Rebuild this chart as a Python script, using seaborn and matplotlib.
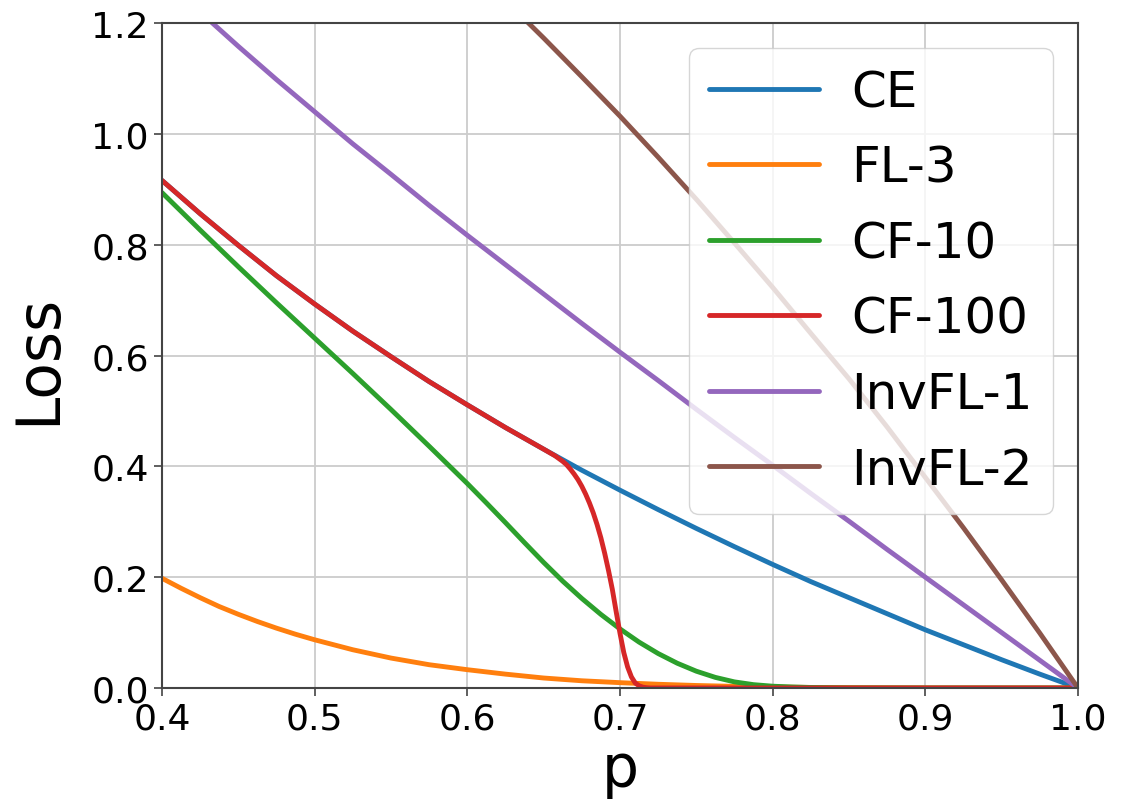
import pandas as pd
import seaborn as sns
import matplotlib.pyplot as plt

# values
p = [0.40, 0.425, 0.45, 0.475, 0.50, 0.525, 0.55, 0.575, 0.60, 0.625, 0.65,
     0.675, 0.70, 0.725, 0.75, 0.775, 0.80, 0.825, 0.85, 0.875, 0.90, 0.925,
     0.95, 0.975, 1.00]

ce = [0.916, 0.856, 0.799, 0.744, 0.693, 0.644, 0.598, 0.553, 0.511, 0.470, 0.431,
      0.393, 0.357, 0.322, 0.288, 0.255, 0.223, 0.192, 0.163, 0.134, 0.105, 0.078,
      0.051, 0.025, 0.0]

# FL-3: finer steps at the left where it curves most
p_fl3 = [0.40, 0.4125, 0.425, 0.4375, 0.45, 0.4625, 0.475, 0.4875, 0.50, 0.525, 0.55,
         0.575, 0.60, 0.625, 0.65, 0.675, 0.70, 0.725, 0.75, 0.775, 0.80, 0.825,
         0.85, 0.875, 0.90, 0.95, 1.00]
fl3 = [0.198, 0.180, 0.163, 0.147, 0.133, 0.120, 0.108, 0.097, 0.087, 0.069, 0.054,
       0.042, 0.033, 0.025, 0.018, 0.013, 0.0096, 0.0067, 0.0045, 0.0029, 0.0018, 0.001,
       0.0006, 0.0003, 0.0001, 0.0, 0.0]

inv1 = [1.283, 1.220, 1.158, 1.098, 1.040, 0.982, 0.927, 0.871, 0.817, 0.764, 0.711,
        0.658, 0.606, 0.555, 0.503, 0.452, 0.402, 0.351, 0.301, 0.250, 0.200, 0.150,
        0.100, 0.050, 0.0]

inv2 = [1.796, 1.738, 1.680, 1.619, 1.559, 1.498, 1.437, 1.372, 1.308, 1.241, 1.173,
        1.103, 1.032, 0.958, 0.882, 0.803, 0.723, 0.640, 0.558, 0.471, 0.380, 0.289,
        0.195, 0.099, 0.0]

# CF-10: finer steps where it bends down to zero
p_cf10 = [0.40, 0.425, 0.45, 0.475, 0.50, 0.525, 0.55, 0.575, 0.60, 0.6125, 0.625,
          0.6375, 0.65, 0.6625, 0.675, 0.6875, 0.70, 0.7125, 0.725, 0.7375, 0.75,
          0.7625, 0.775, 0.7875, 0.80, 0.8125, 0.825, 0.8375, 0.85, 0.90, 0.95, 1.00]
cf10 = [0.894, 0.8265, 0.7602, 0.6952, 0.6314, 0.5676, 0.5026, 0.4363, 0.369, 0.334, 0.2984,
        0.2622, 0.2266, 0.1928, 0.1616, 0.1328, 0.1066, 0.0828, 0.0622, 0.0447, 0.0303,
        0.0191, 0.011, 0.006, 0.0032, 0.0018, 0.0009, 0.0004, 0.0001, 0.0, 0.0, 0.0]

# CF-100: finer steps around the drop
p_cf100 = [0.40, 0.425, 0.45, 0.475, 0.50, 0.525, 0.55, 0.575, 0.60, 0.625, 0.65,
           0.6525, 0.655, 0.6575, 0.66, 0.6625, 0.665, 0.6675, 0.67, 0.6725, 0.675,
           0.6775, 0.68, 0.6825, 0.685, 0.6875, 0.69, 0.6925, 0.695, 0.6975, 0.70,
           0.7025, 0.705, 0.7075, 0.71, 0.7125, 0.715, 0.7175, 0.72, 0.80, 0.90, 1.00]
cf100 = [0.916, 0.856, 0.799, 0.744, 0.693, 0.644, 0.598, 0.553, 0.511, 0.470, 0.431,
         0.427, 0.423, 0.419, 0.414, 0.409, 0.403, 0.395, 0.386, 0.376, 0.364,
         0.350, 0.334, 0.316, 0.295, 0.271, 0.243, 0.212, 0.178, 0.138, 0.099,
         0.064, 0.038, 0.020, 0.009, 0.004, 0.0015, 0.0005, 0.0, 0.0, 0.0, 0.0]

names = ["CE", "FL-3", "CF-10", "CF-100", "InvFL-1", "InvFL-2"]

frames = []
for name, xs, ys in [("CE", p, ce), ("FL-3", p_fl3, fl3), ("CF-10", p_cf10, cf10),
                     ("CF-100", p_cf100, cf100), ("InvFL-1", p, inv1), ("InvFL-2", p, inv2)]:
    frames.append(pd.DataFrame({"p": xs, "loss": ys, "name": name}))
df = pd.concat(frames, ignore_index=True)

sns.set_style("ticks")
plt.rcParams['font.family'] = ['DejaVu Sans']
plt.rcParams['text.color'] = 'black'
plt.rcParams['axes.labelcolor'] = 'black'
plt.rcParams['xtick.color'] = 'black'
plt.rcParams['ytick.color'] = 'black'

fig = plt.figure(figsize=(11.27, 8.12), dpi=100)
ax = fig.add_axes([0.1437, 0.1515, 0.8128, 0.8189])

sns.lineplot(data=df, x="p", y="loss", hue="name", hue_order=names,
             palette=sns.color_palette("tab10", 6), linewidth=3.5,
             estimator=None, ax=ax)

ax.set_xlim(0.4, 1.0)
ax.set_ylim(0.0, 1.2)
ax.set_xticks([0.4, 0.5, 0.6, 0.7, 0.8, 0.9, 1.0])
ax.set_yticks([0.0, 0.2, 0.4, 0.6, 0.8, 1.0, 1.2])
ax.grid(True, color="#cccccc", linewidth=1.3)
ax.set_axisbelow(True)
ax.tick_params(labelsize=26, length=6, width=1.2, color="#444444", labelcolor="black")
for s in ax.spines.values():
    s.set_color("#444444")
    s.set_linewidth(1.5)

ax.set_xlabel("p", fontsize=42)
ax.set_ylabel("Loss", fontsize=43)
ax.yaxis.set_label_coords(-0.102, 0.495)

sns.move_legend(ax, "upper right", title=None, fontsize=36, handlelength=2.2,
                handletextpad=0.65, labelspacing=0.55, borderaxespad=0.5,
                frameon=True, framealpha=0.8)
leg = ax.get_legend()
for line in leg.get_lines():
    line.set_linewidth(3.5)
for t in leg.get_texts():
    t.set_color("black")

fig.savefig("out.png", dpi=100)
plt.close(fig)
